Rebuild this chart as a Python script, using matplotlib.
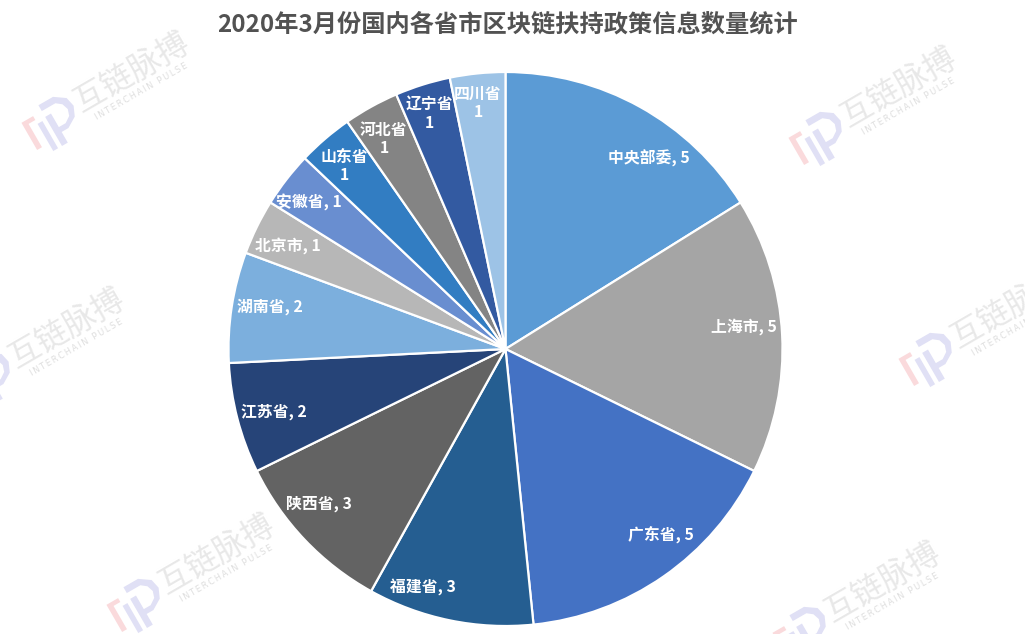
import matplotlib
matplotlib.use("Agg")
import matplotlib.pyplot as plt
from matplotlib.patches import Polygon
from matplotlib.transforms import Affine2D

plt.rcParams['font.family'] = ['Noto Sans CJK SC', 'DejaVu Sans']

categorias = ["中央部委", "上海市", "广东省", "福建省", "陕西省", "江苏省", "湖南省",
              "北京市", "安徽省", "山东省", "河北省", "辽宁省", "四川省"]
valores = [5, 5, 5, 3, 3, 2, 2, 1, 1, 1, 1, 1, 1]
cores = ["#5B9BD5", "#A5A5A5", "#4472C4", "#255E91", "#636363", "#264478", "#7CAFDD",
         "#B7B7B7", "#698ED0", "#327DC2", "#848484", "#335AA1", "#9DC3E6"]
titulo = "2020年3月份国内各省市区块链扶持政策信息数量统计"

W, H = 1025, 634

# // Posicao dos rotulos em pixels da imagem (centro do texto).
pos_rotulos = [(649, 158), (744, 327), (661, 534), (423, 588), (319, 504), (274, 412),
               (270, 307), (288, 246), (309, 202), (344, 166), (384, 139), (429, 114),
               (478, 103)]
duas_linhas = {"山东省", "河北省", "辽宁省", "四川省"}

# // Posicao do logo de cada marca d'agua.
marcas = [(52, 122), (819, 137), (929, 358), (-13, 378), (137, 604), (803, 632)]


def py(y):
    return H - y


def marca_dagua(ax, x, y):
    rot = Affine2D().scale(1.12).rotate_deg(30).translate(x, py(y)) + ax.transData
    # // colchete rosa
    ax.add_patch(Polygon([(-24, 13), (-12, 13), (-12, 9), (-19, 9), (-19, -15), (-24, -15)],
                         closed=True, fc="#FADADC", ec="none", transform=rot, zorder=0))
    # // barra e P em lilas
    ax.add_patch(Polygon([(-12, 5), (-7, 5), (-7, -23), (-12, -23)],
                         closed=True, fc="#E0E0F5", ec="none", transform=rot, zorder=0))
    ax.add_patch(Polygon([(-3, 19), (12, 19), (22, 12), (24, 3), (20, -6), (10, -12), (3, -12),
                          (3, -23), (-3, -23), (-3, 7), (3, 7), (3, -7), (10, -7), (16, -3),
                          (18, 3), (16, 9), (11, 13), (-3, 13)],
                         closed=True, fc="#E0E0F5", ec="none", transform=rot, zorder=0))
    ax.text(x + 80, py(y - 50), "互链脉搏", fontsize=23, fontweight="medium", color="#E8E8E8",
            rotation=30, ha="center", va="center", rotation_mode="anchor", zorder=0)
    ax.text(x + 89, py(y - 30), "\u2009".join("INTERCHAIN PULSE"), fontsize=6, color="#DEDEDE",
            rotation=30, ha="center", va="center", rotation_mode="anchor", zorder=0,
            fontfamily="DejaVu Sans")


fig = plt.figure(figsize=(W / 100, H / 100), dpi=100)
ax = fig.add_axes([0, 0, 1, 1])

for x, y in marcas:
    marca_dagua(ax, x, y)

ax.pie(valores, colors=cores, startangle=90, counterclock=False, center=(505.5, py(349)),
       radius=277, frame=True, wedgeprops={"edgecolor": "white", "linewidth": 1.6})
ax.set_xlim(0, W)
ax.set_ylim(0, H)
ax.axis("off")

for nome, valor, (x, y) in zip(categorias, valores, pos_rotulos):
    sep = "\n" if nome in duas_linhas else ", "
    ax.text(x, py(y), f"{nome}{sep}{valor}", color="white", fontsize=11.4, fontweight="bold",
            ha="center", va="center", linespacing=1.2)

ax.text(507.5, py(24), titulo, color="#525252", fontsize=17.45, fontweight="bold",
        ha="center", va="center")

fig.savefig("out.png", dpi=100)
